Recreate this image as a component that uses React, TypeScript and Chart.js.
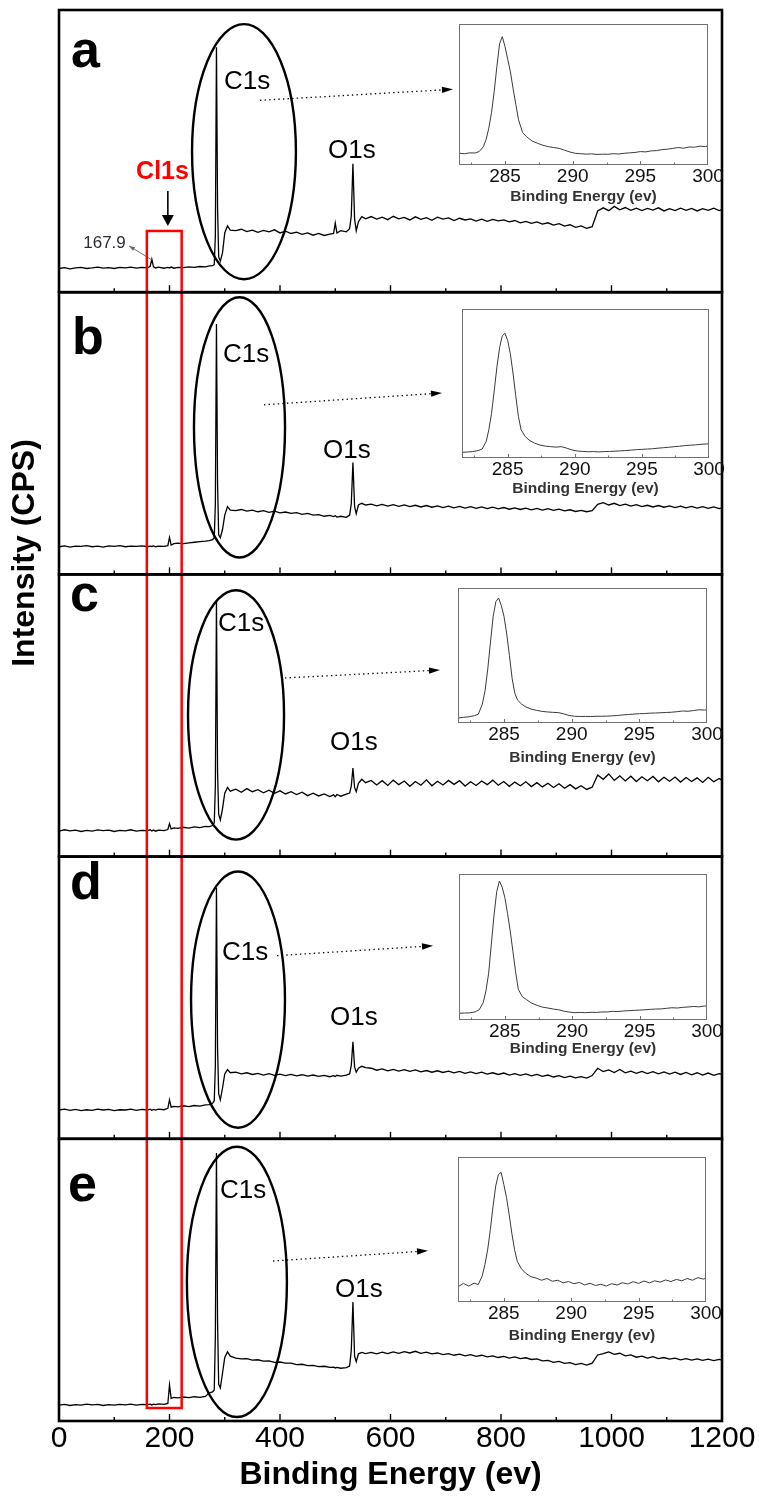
import React, { useEffect, useRef } from "react";
import { Chart, registerables } from "chart.js";

Chart.register(...registerables);

const W = 759;
const H = 1498;
const FONT = '"Liberation Sans", Arial, Helvetica, sans-serif';

const X_TITLE = "Binding Energy (ev)";
const Y_TITLE = "Intensity (CPS)";
const X_TICKS = [0, 200, 400, 600, 800, 1000, 1200];
const X_SMALL_TICKS = [100, 200, 300, 400, 500, 600, 700, 800, 900, 1000, 1100];
const INSET_TICKS = [285, 290, 295, 300];
const INSET_SMALL_TICKS = [282.5, 285, 287.5, 290, 292.5, 295, 297.5];

// Survey spectra: binding energy (eV)
const ENERGY = [
  0, 10, 20, 30, 40, 50, 60, 70, 80, 90, 100, 110, 120, 130, 140, 150,
  160, 165, 168, 171, 175, 180, 190, 197, 200, 203, 208, 215, 225, 235, 245, 255, 265, 272, 278, 281, 283, 285, 287, 289, 292, 296, 300, 305, 310,
  320, 330, 340, 350, 360, 370, 380, 390, 400, 410, 420, 430, 440, 450, 460, 470, 480, 490,
  497, 500, 503, 510, 520, 526, 529, 532, 535, 538, 542, 548, 555,
  565, 575, 585, 595, 605, 615, 625, 635, 645, 655, 665, 675, 685, 695, 705, 715, 725, 735, 745, 755,
  765, 775, 785, 795, 805, 815, 825, 835, 845, 855, 865, 875, 885, 895, 905, 915, 925, 935, 945, 955, 965,
  975, 985, 995, 1005, 1015, 1025, 1035, 1045, 1055, 1065, 1075, 1085, 1095, 1105, 1115, 1125, 1135, 1145, 1155, 1165, 1175, 1185, 1195,
  1200,
];

// Intensities (relative units, each panel 0-100)
const PANEL_A = [
  8.4, 8.7, 8.3, 8.6, 8.8, 8.4, 8.6, 8.9, 8.5, 8.7, 8.4, 8.8, 8.6, 8.9, 8.5, 8.8,
  8.6, 9.2, 11.7, 9.0, 8.6, 8.9, 8.5, 8.8, 8.6, 8.9, 8.5, 8.8, 8.7, 9.0, 8.8, 9.1, 9.0, 9.3, 9.4, 9.8, 20, 86.8, 30, 12.5, 11.0, 14, 21, 23.5, 22.0,
  21.8, 22.3, 21.5, 22.0, 21.2, 21.9, 21.4, 22.1, 21.0, 21.6, 20.8, 21.3, 20.5, 21.0, 20.2, 20.8, 20.1, 20.6,
  20.8, 24.5, 21.0, 21.8, 21.4, 22.5, 27, 45.5, 26, 21.8, 25.0, 26.8, 26.0,
  26.8, 25.9, 26.6, 25.7, 26.9, 26.0, 26.5, 25.6, 26.7, 25.8, 26.4, 25.5, 26.6, 25.9, 26.3, 25.4, 26.2, 25.6, 26.0, 25.2,
  25.9, 25.1, 25.8, 25.3, 25.6, 24.9, 25.4, 24.6, 25.1, 24.4, 24.9, 24.1, 24.6, 23.8, 24.3, 23.4, 23.9, 23.0, 23.5, 22.6, 23.2,
  28.8, 29.9, 28.9, 30.4, 29.2, 30.0, 29.0, 29.8, 28.9, 29.7, 29.1, 29.9, 28.8, 29.6, 28.9, 29.8, 29.0, 29.7, 28.8, 29.6, 29.0, 29.8, 28.9,
  29.3,
];

const PANEL_B = [
  9.8, 10.1, 9.7, 10.0, 9.9, 10.2, 9.8, 10.0, 9.7, 10.1, 9.9, 10.2, 9.8, 10.0, 9.9, 10.1,
  9.8, 10.0, 9.9, 10.1, 9.8, 10.0, 9.9, 10.2, 13.1, 10.4, 10.9, 11.1, 10.9, 11.2, 11.4, 11.6, 11.8, 12.0, 12.3, 13, 25, 88.7, 32, 14, 13.0, 16, 21, 24.0, 22.8,
  22.6, 23.0, 22.4, 22.8, 22.2, 22.6, 22.0, 22.4, 21.8, 22.1, 21.6, 21.9, 21.3, 21.6, 21.0, 21.2, 20.6, 20.9,
  20.5, 20.8, 20.3, 20.6, 20.2, 21.0, 25, 39.6, 24, 21.5, 24.6, 25.2, 24.6,
  24.9, 24.3, 24.8, 24.2, 24.7, 24.1, 24.6, 24.0, 24.5, 23.9, 24.4, 23.8, 24.3, 23.7, 24.2, 23.6, 24.1, 23.5, 24.0, 23.4,
  23.9, 23.3, 23.8, 23.2, 23.7, 23.1, 23.6, 23.0, 23.5, 22.9, 23.4, 22.8, 23.3, 22.7, 23.1, 22.5, 22.9, 22.3, 22.7, 22.2, 22.6,
  24.8, 25.4, 24.6, 25.2, 24.4, 24.9, 24.2, 24.7, 24.0, 24.5, 23.9, 24.4, 23.8, 24.3, 23.7, 24.2, 23.6, 24.1, 23.5, 24.0, 23.4, 23.9, 23.3,
  23.6,
];

const PANEL_C = [
  9.0, 9.5, 9.1, 9.4, 8.9, 9.3, 9.0, 9.5, 9.2, 9.4, 8.9, 9.3, 9.1, 9.5, 9.0, 9.3,
  9.2, 9.5, 9.1, 9.4, 9.0, 9.4, 9.2, 9.6, 11.7, 9.8, 10.2, 10.0, 10.4, 10.1, 10.5, 10.3, 10.7, 10.6, 11.0, 12, 25, 90.8, 30, 15, 13.0, 17, 22.5, 24.5, 23.2,
  23.9, 22.8, 24.1, 23.0, 23.7, 22.6, 23.5, 22.4, 23.3, 22.2, 23.0, 22.0, 22.8, 21.6, 22.5, 21.5, 22.2, 21.3,
  21.9, 21.2, 22.0, 21.4, 22.1, 22.5, 25, 31.4, 24.5, 23.0, 26.0, 27.4, 26.2,
  27.0, 25.4, 26.9, 25.2, 27.1, 25.5, 26.8, 24.9, 26.6, 25.3, 27.2, 25.1, 26.7, 25.4, 27.0, 25.6, 26.9, 25.0, 26.5, 25.2,
  26.8, 25.5, 27.1, 25.3, 26.6, 24.9, 26.4, 25.1, 26.5, 24.8, 26.2, 24.7, 26.0, 24.5, 25.8, 24.2, 25.5, 24.0, 25.1, 23.8, 24.6,
  28.9, 27.4, 29.3, 27.0, 28.6, 26.8, 28.5, 26.6, 28.3, 26.9, 28.4, 26.5, 28.1, 26.7, 28.2, 26.4, 28.0, 26.6, 27.9, 26.3, 28.1, 26.5, 27.7,
  27.0,
];

const PANEL_D = [
  10.2, 10.5, 10.1, 10.4, 10.0, 10.3, 10.1, 10.5, 10.2, 10.4, 10.0, 10.3, 10.2, 10.5, 10.1, 10.4,
  10.2, 10.5, 10.1, 10.4, 10.2, 10.5, 10.3, 10.8, 13.8, 11.2, 11.5, 11.3, 11.7, 11.4, 11.8, 11.6, 12.0, 12.1, 12.6, 13.5, 26, 89, 32, 16, 13.8, 18, 23, 24.5, 23.4,
  23.6, 23.0, 23.4, 22.8, 23.2, 22.6, 23.1, 22.5, 22.9, 22.4, 22.8, 22.3, 22.7, 22.2, 22.6, 22.1, 22.5, 22.0,
  22.4, 22.1, 22.5, 22.2, 22.6, 23.0, 26, 34.4, 25.5, 23.6, 25.0, 25.7, 25.2,
  25.0, 24.3, 24.8, 24.1, 24.6, 24.0, 24.5, 23.9, 24.4, 23.7, 24.2, 23.6, 24.1, 23.5, 24.0, 23.4, 23.9, 23.2, 23.7, 23.1,
  23.6, 22.9, 23.4, 22.8, 23.3, 22.6, 23.1, 22.5, 23.0, 22.3, 22.8, 22.1, 22.6, 21.9, 22.4, 21.7, 22.2, 21.6, 22.0, 21.5, 22.4,
  25.0, 23.8, 24.4, 23.5, 24.6, 23.4, 24.0, 23.2, 23.9, 23.1, 23.8, 23.0, 23.7, 22.9, 23.6, 22.8, 23.5, 22.7, 23.4, 22.6, 23.3, 22.5, 23.1,
  22.8,
];

const PANEL_E = [
  5.6, 5.9, 5.5, 5.8, 5.6, 6.0, 5.7, 5.9, 5.5, 5.8, 5.6, 5.9, 5.7, 6.0, 5.6, 5.9,
  5.8, 6.0, 5.7, 6.0, 5.8, 6.1, 5.9, 6.2, 12.8, 8.0, 8.4, 8.2, 8.5, 8.3, 8.6, 8.4, 8.7, 10.0, 10.3, 11, 30, 95, 35, 13, 11.7, 17, 22.5, 24.5, 23.0,
  22.3, 22.0, 22.1, 21.6, 21.7, 21.2, 21.3, 20.8, 20.9, 20.5, 20.5, 20.0, 20.1, 19.6, 19.7, 19.3, 19.4, 19.0,
  19.1, 18.8, 19.0, 18.7, 18.9, 19.5, 25, 42.2, 23.0, 21.0, 23.8, 24.3, 23.9,
  24.3, 23.8, 24.4, 23.9, 24.5, 24.0, 24.6, 24.1, 24.7, 24.0, 24.4, 23.8, 24.1, 23.5, 23.9, 23.3, 23.7, 23.1, 23.5, 22.9,
  23.3, 22.7, 23.1, 22.5, 22.9, 22.3, 22.7, 22.1, 22.4, 21.8, 22.0, 21.3, 21.5, 20.8, 21.1, 20.4, 20.7, 20.0, 20.4, 19.8, 20.5,
  23.4, 23.9, 24.5, 23.6, 24.0, 23.1, 23.4, 22.6, 23.0, 22.3, 22.8, 22.1, 22.5, 21.9, 22.3, 21.7, 22.1, 21.6, 22.0, 21.5, 21.9, 21.4, 21.8,
  21.6,
];

// C1s high-resolution insets
const INSET_ENERGY = [
  281.6, 282.0, 282.4, 282.8, 283.1, 283.4, 283.6, 283.8, 284.0, 284.2,
  284.4, 284.6, 284.8, 285.0, 285.2, 285.4, 285.6, 285.8, 286.0, 286.3,
  286.6, 287.0, 287.4, 287.8, 288.2, 288.6, 289.0, 289.4, 289.8, 290.2,
  290.6, 291.0, 291.4, 291.8, 292.2, 292.6, 293.0, 293.4, 293.8, 294.2,
  294.6, 295.0, 295.4, 295.8, 296.2, 296.6, 297.0, 297.4, 297.8, 298.2,
  298.6, 299.0, 299.4, 299.8, 300.0,
];
const INSET_A = [
  8.4, 8.0, 8.6, 8.5, 9.6, 13.0, 18, 26, 37, 52,
  70, 86, 91, 84, 75, 66, 54, 43, 32, 23,
  20, 17, 15.4, 14, 13, 12.4, 11.8, 10.5, 9.2, 8.3,
  8.0, 7.7, 7.9, 7.5, 7.7, 7.6, 8.0, 7.8, 8.3, 8.6,
  8.9, 9.5, 9.3, 10.0, 10.2, 10.9, 11.2, 11.8, 12.4, 11.9,
  12.8, 12.6, 13.4, 13.0, 13.5,
];
const INSET_B = [
  3.8, 4.0, 4.3, 5.0, 6.0, 11, 19, 30, 45, 61,
  74, 82, 83.7, 79, 70, 57, 42, 28, 19, 14.5,
  12, 10, 8.7, 8.0, 7.6, 7.3, 7.6, 6.6, 5.4, 4.7,
  4.4, 4.2, 4.3, 4.1, 4.3, 4.4, 4.6, 4.8, 5.0, 5.3,
  5.6, 5.8, 6.0, 6.2, 6.6, 6.9, 7.2, 7.6, 7.9, 8.3,
  8.6, 8.8, 9.2, 9.4, 9.5,
];
const INSET_C = [
  3.7, 4.2, 4.6, 5.4, 6.5, 14, 24, 40, 60, 79,
  90, 92.6, 87, 79, 66, 50, 33, 22, 17, 14,
  12, 10.3, 9.4, 8.6, 8.2, 7.9, 7.7, 6.8, 5.6, 5.0,
  4.8, 4.9, 4.8, 5.0, 5.0, 5.1, 5.3, 5.6, 6.0, 6.3,
  6.6, 6.9, 7.0, 7.3, 7.4, 7.6, 7.8, 8.0, 8.4, 8.9,
  8.7, 9.2, 9.8, 9.6, 9.9,
];
const INSET_D = [
  4.6, 4.8, 4.9, 5.6, 7.0, 12, 20, 32, 52, 72,
  88, 95.2, 91, 84, 73, 61, 47, 33, 21, 16,
  14, 11.5, 10, 8.8, 8.2, 7.5, 7.0, 6.0, 5.4, 5.0,
  5.2, 5.0, 5.3, 5.2, 5.5, 5.5, 5.9, 5.8, 6.2, 6.4,
  6.6, 6.8, 7.0, 7.3, 7.5, 7.6, 8.0, 8.4, 8.2, 8.7,
  8.9, 9.3, 9.0, 9.6, 9.7,
];
const INSET_E = [
  10.5, 12.8, 11.0, 13.0, 12.0, 18, 26, 36, 50, 66,
  80, 88, 89.4, 81, 72, 60, 47, 36, 28, 23,
  20, 17.5, 16.5, 15, 16.2, 14.3, 15.0, 13.2, 14.1, 12.6,
  13.5, 11.8, 12.9, 11.4, 12.2, 11.0, 12.6, 11.7, 13.3, 12.4,
  14.0, 12.8, 14.5, 13.2, 14.6, 13.7, 15.2, 14.1, 15.6, 14.6,
  16.2, 15.0, 16.8, 15.8, 16.4,
];

const PANELS = [PANEL_A, PANEL_B, PANEL_C, PANEL_D, PANEL_E];
const INSETS = [INSET_A, INSET_B, INSET_C, INSET_D, INSET_E];
const PANEL_IDS = ["ya", "yb", "yc", "yd", "ye"];
const LETTERS = ["a", "b", "c", "d", "e"];

// Annotation anchors in data units: [energy, intensity]
const LETTER_POS = [[21.7, 79.7], [23.5, 78.1], [20, 86.9], [20, 84.8], [16.3, 78.0]];
const C1S_POS = [[298.6, 71.9], [296.8, 75.3], [287.8, 79.9], [295, 63.5], [291.4, 79.1]];
const O1S_POS = [[486.9, 47.7], [477.8, 41.3], [490.5, 37.8], [490.5, 40.4], [499.5, 44.0]];
// [centre energy, centre intensity, energy radius, intensity radius]
const ELLIPSES = [
  [334.8, 49.8, 94, 45.2],
  [326.7, 52.1, 82.4, 46.1],
  [320.4, 50.2, 86.9, 44.2],
  [324, 49.3, 85, 45.4],
  [322, 49.3, 90.5, 47.9],
];
// dotted pointers [x1, y1, x2, y2]
const POINTERS = [
  [363.8, 68.0, 713.1, 71.9],
  [371, 60.1, 693.2, 64.3],
  [409, 63.3, 689.6, 66.1],
  [394.6, 64.9, 677, 68.4],
  [387.3, 56.7, 667.9, 60.3],
];
const CL_BOX = { x1: 159, x2: 222, topA: 21.7, bottomE: 4.6 };
const CL_LABEL = { x: 187.3, y: 40.2, arrowX: 197, arrowTop: 35.9, arrowBottom: 23.5 };
const PEAK_LABEL = { text: "167.9", x: 82.4, y: 17.4, lx1: 126.7, ly1: 16.4, lx2: 168.3, ly2: 11.4 };

// Inset placement (page pixels)
const INSET_BOXES = [
  { left: 459, top: 24, w: 249, h: 141, titleGap: 32 },
  { left: 462, top: 309, w: 247, h: 149, titleGap: 31 },
  { left: 458, top: 588, w: 249, h: 135, titleGap: 35 },
  { left: 459, top: 874, w: 248, h: 146, titleGap: 29 },
  { left: 458, top: 1157, w: 248, h: 145, titleGap: 34 },
];

function arrowHead(ctx: CanvasRenderingContext2D, x1: number, y1: number, x2: number, y2: number, len: number, half: number) {
  const a = Math.atan2(y2 - y1, x2 - x1);
  const c = Math.cos(a), s = Math.sin(a);
  ctx.beginPath();
  ctx.moveTo(x2, y2);
  ctx.lineTo(x2 - len * c + half * s, y2 - len * s - half * c);
  ctx.lineTo(x2 - len * c - half * s, y2 - len * s + half * c);
  ctx.closePath();
  ctx.fill();
}

const overlayPlugin = {
  id: "xpsOverlay",
  afterDatasetsDraw(chart: any) {
    const ctx: CanvasRenderingContext2D = chart.ctx;
    const xs = chart.scales.x;
    const px = (v: number) => xs.getPixelForValue(v);
    ctx.save();
    ctx.strokeStyle = "#000";
    ctx.fillStyle = "#000";

    PANEL_IDS.forEach((id, i) => {
      const ys = chart.scales[id];
      const py = (v: number) => ys.getPixelForValue(v);

      // ellipse around C1s
      const [ecx, ecy, erx, ery] = ELLIPSES[i];
      ctx.setLineDash([]);
      ctx.lineWidth = 2.4;
      ctx.beginPath();
      ctx.ellipse(px(ecx), py(ecy), px(ecx + erx) - px(ecx), py(ecy) - py(ecy + ery), 0, 0, Math.PI * 2);
      ctx.stroke();

      // dotted pointer to inset
      const [x1, y1, x2, y2] = POINTERS[i];
      const X1 = px(x1), Y1 = py(y1), X2 = px(x2), Y2 = py(y2);
      const ang = Math.atan2(Y2 - Y1, X2 - X1);
      ctx.setLineDash([1.4, 3.2]);
      ctx.lineWidth = 1.3;
      ctx.beginPath();
      ctx.moveTo(X1, Y1);
      ctx.lineTo(X2 - 10 * Math.cos(ang), Y2 - 10 * Math.sin(ang));
      ctx.stroke();
      ctx.setLineDash([]);
      arrowHead(ctx, X1, Y1, X2, Y2, 11, 3.2);

      // labels
      ctx.textAlign = "left";
      ctx.textBaseline = "alphabetic";
      ctx.font = `26px ${FONT}`;
      ctx.fillText("C1s", px(C1S_POS[i][0]), py(C1S_POS[i][1]));
      ctx.fillText("O1s", px(O1S_POS[i][0]), py(O1S_POS[i][1]));
      ctx.font = `bold 52px ${FONT}`;
      ctx.fillText(LETTERS[i], px(LETTER_POS[i][0]), py(LETTER_POS[i][1]));

      // inward ticks on each panel's bottom axis
      ctx.lineWidth = 1.4;
      X_SMALL_TICKS.forEach((t) => {
        const x = px(t);
        const len = t % 200 === 0 ? 7 : 4;
        ctx.beginPath();
        ctx.moveTo(x, ys.bottom);
        ctx.lineTo(x, ys.bottom - len);
        ctx.stroke();
      });
    });

    // panel a extras
    const ya = chart.scales[PANEL_IDS[0]];
    const pya = (v: number) => ya.getPixelForValue(v);
    ctx.font = `bold 25px ${FONT}`;
    ctx.fillStyle = "#ff0000";
    ctx.textAlign = "center";
    ctx.fillText("Cl1s", px(CL_LABEL.x), pya(CL_LABEL.y));
    ctx.fillStyle = "#000";
    ctx.lineWidth = 1.6;
    const ax = px(CL_LABEL.arrowX);
    ctx.beginPath();
    ctx.moveTo(ax, pya(CL_LABEL.arrowTop));
    ctx.lineTo(ax, pya(CL_LABEL.arrowBottom) - 8);
    ctx.stroke();
    arrowHead(ctx, ax, pya(CL_LABEL.arrowTop), ax, pya(CL_LABEL.arrowBottom), 11, 6);

    ctx.font = `17px ${FONT}`;
    ctx.fillStyle = "#2b2b35";
    ctx.textAlign = "center";
    ctx.textBaseline = "middle";
    ctx.fillText(PEAK_LABEL.text, px(PEAK_LABEL.x), pya(PEAK_LABEL.y));
    ctx.strokeStyle = "#666";
    ctx.fillStyle = "#666";
    ctx.lineWidth = 0.9;
    const lx1 = px(PEAK_LABEL.lx1), ly1 = pya(PEAK_LABEL.ly1), lx2 = px(PEAK_LABEL.lx2), ly2 = pya(PEAK_LABEL.ly2);
    ctx.beginPath();
    ctx.moveTo(lx1, ly1);
    ctx.lineTo(lx2, ly2);
    ctx.stroke();
    arrowHead(ctx, lx2, ly2, lx1, ly1, 6, 2);

    // red box spanning all panels
    const ye = chart.scales[PANEL_IDS[4]];
    ctx.strokeStyle = "#ff0000";
    ctx.lineWidth = 2.5;
    const rx1 = px(CL_BOX.x1), rx2 = px(CL_BOX.x2);
    const ry1 = pya(CL_BOX.topA), ry2 = ye.getPixelForValue(CL_BOX.bottomE);
    ctx.strokeRect(rx1, ry1, rx2 - rx1, ry2 - ry1);

    // panel frames
    ctx.strokeStyle = "#000";
    ctx.lineWidth = 2.6;
    PANEL_IDS.forEach((id) => {
      const ys = chart.scales[id];
      ctx.strokeRect(xs.left, ys.top, xs.right - xs.left, ys.bottom - ys.top);
    });

    // y axis title
    ctx.save();
    ctx.translate(chart.chartArea.left - 34, chart.chartArea.top + 543);
    ctx.rotate(-Math.PI / 2);
    ctx.font = `bold 32px ${FONT}`;
    ctx.fillStyle = "#000";
    ctx.textAlign = "center";
    ctx.textBaseline = "middle";
    ctx.fillText(Y_TITLE, 0, 0);
    ctx.restore();

    ctx.restore();
  },
};

const insetPlugin = {
  id: "insetFrame",
  afterDatasetsDraw(chart: any) {
    const ctx: CanvasRenderingContext2D = chart.ctx;
    const a = chart.chartArea;
    const xs = chart.scales.x;
    ctx.save();
    ctx.strokeStyle = "#707070";
    ctx.lineWidth = 1;
    ctx.strokeRect(a.left + 0.5, a.top + 0.5, a.right - a.left - 1, a.bottom - a.top - 1);
    INSET_SMALL_TICKS.forEach((t) => {
      const x = Math.round(xs.getPixelForValue(t)) + 0.5;
      ctx.beginPath();
      ctx.moveTo(x, a.bottom);
      ctx.lineTo(x, a.bottom - (t % 5 === 0 ? 4 : 2.5));
      ctx.stroke();
    });
    ctx.restore();
  },
};

function MainChart() {
  const ref = useRef<HTMLCanvasElement>(null);
  useEffect(() => {
    const canvas = ref.current;
    if (!canvas) return;
    const scales: any = {
      x: {
        type: "linear",
        position: "bottom",
        min: 0,
        max: 1200,
        afterBuildTicks: (s: any) => {
          s.ticks = X_TICKS.map((v) => ({ value: v }));
        },
        afterFit: (s: any) => {
          s.height = 77;
        },
        grid: { display: false, drawTicks: false },
        border: { display: false },
        ticks: {
          font: { family: FONT, size: 30 },
          color: "#000",
          padding: 0,
          autoSkip: false,
          maxRotation: 0,
          callback: (v: any) => String(v),
        },
        title: {
          display: true,
          text: X_TITLE,
          font: { family: FONT, size: 32, weight: "bold" },
          color: "#000",
          padding: { top: 0, bottom: 4 },
        },
      },
    };
    // stacked layout places the first-defined axis at the bottom, so define e..a
    [...PANEL_IDS].reverse().forEach((id) => {
      scales[id] = {
        type: "linear",
        position: "left",
        stack: "panels",
        stackWeight: 1,
        min: 0,
        max: 100,
        afterFit: (s: any) => {
          s.width = 0;
        },
        ticks: { display: false },
        grid: { display: false, drawTicks: false },
        border: { display: false },
      };
    });
    const chart = new Chart(canvas, {
      type: "line",
      data: {
        datasets: PANELS.map((vals, i) => ({
          data: ENERGY.map((e, j) => ({ x: e, y: vals[j] })),
          yAxisID: PANEL_IDS[i],
          borderColor: "#000",
          borderWidth: 1.3,
          pointRadius: 0,
          tension: 0,
          fill: false,
        })),
      },
      options: {
        responsive: false,
        animation: false,
        events: [],
        layout: { padding: { left: 59, right: 37, top: 10, bottom: 0 } },
        plugins: { legend: { display: false }, tooltip: { enabled: false } },
        scales,
      },
      plugins: [overlayPlugin],
    } as any);
    return () => chart.destroy();
  }, []);
  return (
    <canvas
      ref={ref}
      width={W}
      height={H}
      style={{ position: "absolute", left: 0, top: 0, width: W, height: H }}
    />
  );
}

const PADL = 6;
const PADT = 4;
const PADR = 28;

function Inset({ idx }: { idx: number }) {
  const ref = useRef<HTMLCanvasElement>(null);
  const box = INSET_BOXES[idx];
  const axisH = box.titleGap + 9.3;
  const cw = box.w + PADL + PADR;
  const ch = Math.round(box.h + PADT + axisH);
  useEffect(() => {
    const canvas = ref.current;
    if (!canvas) return;
    const vals = INSETS[idx];
    const chart = new Chart(canvas, {
      type: "line",
      data: {
        datasets: [
          {
            data: INSET_ENERGY.map((e, j) => ({ x: e, y: vals[j] })),
            borderColor: "#3a3a3a",
            borderWidth: 1,
            pointRadius: 0,
            tension: 0,
            fill: false,
          },
        ],
      },
      options: {
        responsive: false,
        animation: false,
        events: [],
        layout: { padding: { left: PADL, top: PADT, right: PADR, bottom: 0 } },
        plugins: { legend: { display: false }, tooltip: { enabled: false } },
        scales: {
          x: {
            type: "linear",
            min: 281.6,
            max: 300,
            afterBuildTicks: (s: any) => {
              s.ticks = INSET_TICKS.map((v) => ({ value: v }));
            },
            afterFit: (s: any) => {
              s.height = ch - PADT - box.h;
            },
            grid: { display: false, drawTicks: false },
            border: { display: false },
            ticks: {
              font: { family: FONT, size: 19 },
              color: "#111",
              padding: 0,
              autoSkip: false,
              maxRotation: 0,
              callback: (v: any) => String(v),
            },
            title: {
              display: true,
              text: X_TITLE,
              font: { family: FONT, size: 15.5, weight: "bold" },
              color: "#333",
              padding: { top: 0, bottom: 0 },
            },
          },
          y: { display: false, min: 0, max: 100 },
        },
      },
      plugins: [insetPlugin],
    } as any);
    return () => chart.destroy();
  }, [idx]);
  return (
    <canvas
      ref={ref}
      width={cw}
      height={ch}
      style={{
        position: "absolute",
        left: box.left - PADL,
        top: box.top - PADT,
        width: cw,
        height: ch,
      }}
    />
  );
}

export default function App() {
  useEffect(() => {
    document.body.style.margin = "0";
    document.body.style.background = "#fff";
  }, []);
  return (
    <div style={{ position: "relative", width: W, height: H, background: "#fff", overflow: "hidden" }}>
      <MainChart />
      {INSET_BOXES.map((_, i) => (
        <Inset key={i} idx={i} />
      ))}
    </div>
  );
}
